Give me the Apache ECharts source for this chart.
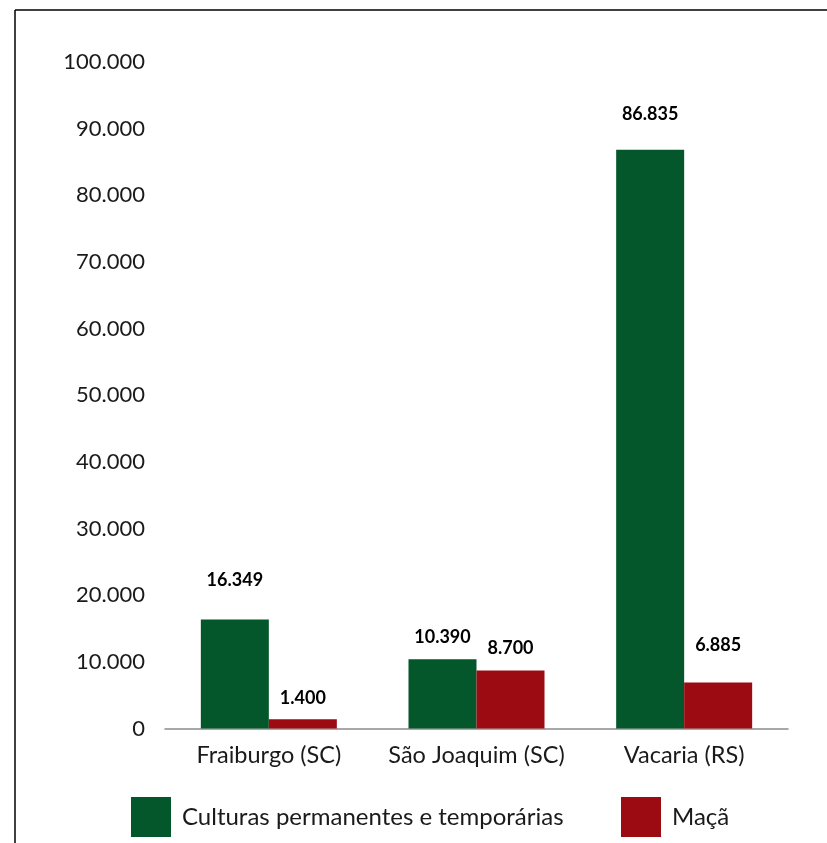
<!DOCTYPE html>
<html>
<head>
<meta charset="utf-8">
<script src="https://cdn.jsdelivr.net/npm/echarts@6/dist/echarts.min.js"></script>
<style>
  html, body { margin: 0; padding: 0; background: #fff; }
  #chart { width: 827px; height: 843px; }
</style>
</head>
<body>
<div id="chart"></div>
<script>
// Área plantada por município (hectares)
const municipios = ['Fraiburgo (SC)', 'São Joaquim (SC)', 'Vacaria (RS)'];
const culturas = [16349, 10390, 86835];
const maca = [1400, 8700, 6885];
const nomeCulturas = 'Culturas permanentes e temporárias';
const nomeMaca = 'Maçã';

// label gap above each bar (px)
const gapCulturas = [30, 13, 27];
const gapMaca = [12, 13, 28];

const FONT = 'Lato';
const fmt = v => String(v).replace(/\B(?=(\d{3})+(?!\d))/g, '.');

const labelStyle = {
  show: true,
  position: 'top',
  fontFamily: FONT,
  fontWeight: 'bold',
  fontSize: 18,
  color: '#000',
  formatter: p => fmt(p.value)
};

function withLabels(values, gaps) {
  return values.map((v, i) => ({ value: v, label: { distance: gaps[i] } }));
}

const chart = echarts.init(document.getElementById('chart'), null, { renderer: 'canvas' });
chart.setOption({
  animation: false,
  backgroundColor: '#fff',
  grid: { left: 165, right: 39, top: 62, bottom: 114.5, containLabel: false },
  xAxis: {
    type: 'category',
    data: municipios,
    axisLine: { lineStyle: { color: '#8c8c8c', width: 1.5 } },
    axisTick: { show: false },
    axisLabel: { interval: 0, fontFamily: FONT, fontSize: 23.5, color: '#1a1a1a', margin: 15 }
  },
  yAxis: {
    type: 'value',
    min: 0,
    max: 100000,
    interval: 10000,
    axisLine: { show: false },
    axisTick: { show: false },
    splitLine: { show: false },
    axisLabel: { fontFamily: FONT, fontSize: 22, color: '#1a1a1a', margin: 20, formatter: v => fmt(v) }
  },
  legend: [
    {
      data: [nomeCulturas], left: 126, top: 792, itemWidth: 40, itemHeight: 40,
      icon: 'rect',
      textStyle: { fontFamily: FONT, fontSize: 24, color: '#1a1a1a', padding: [0, 0, 0, 6] }
    },
    {
      data: [nomeMaca], left: 616, top: 792, itemWidth: 40, itemHeight: 40,
      icon: 'rect',
      textStyle: { fontFamily: FONT, fontSize: 24, color: '#1a1a1a', padding: [0, 0, 0, 6] }
    }
  ],
  series: [
    {
      name: nomeCulturas, type: 'bar', data: withLabels(culturas, gapCulturas),
      barWidth: 68, barGap: '0%',
      itemStyle: { color: '#03572B' }, label: labelStyle
    },
    {
      name: nomeMaca, type: 'bar', data: withLabels(maca, gapMaca),
      barWidth: 68, barGap: '0%',
      itemStyle: { color: '#9C0B12' }, label: labelStyle
    }
  ],
  graphic: [
    { type: 'line', shape: { x1: 15, y1: 10, x2: 827, y2: 10 }, style: { stroke: '#000', lineWidth: 1.5 } },
    { type: 'line', shape: { x1: 15, y1: 10, x2: 15, y2: 843 }, style: { stroke: '#000', lineWidth: 1.5 } }
  ]
});
</script>
</body>
</html>
